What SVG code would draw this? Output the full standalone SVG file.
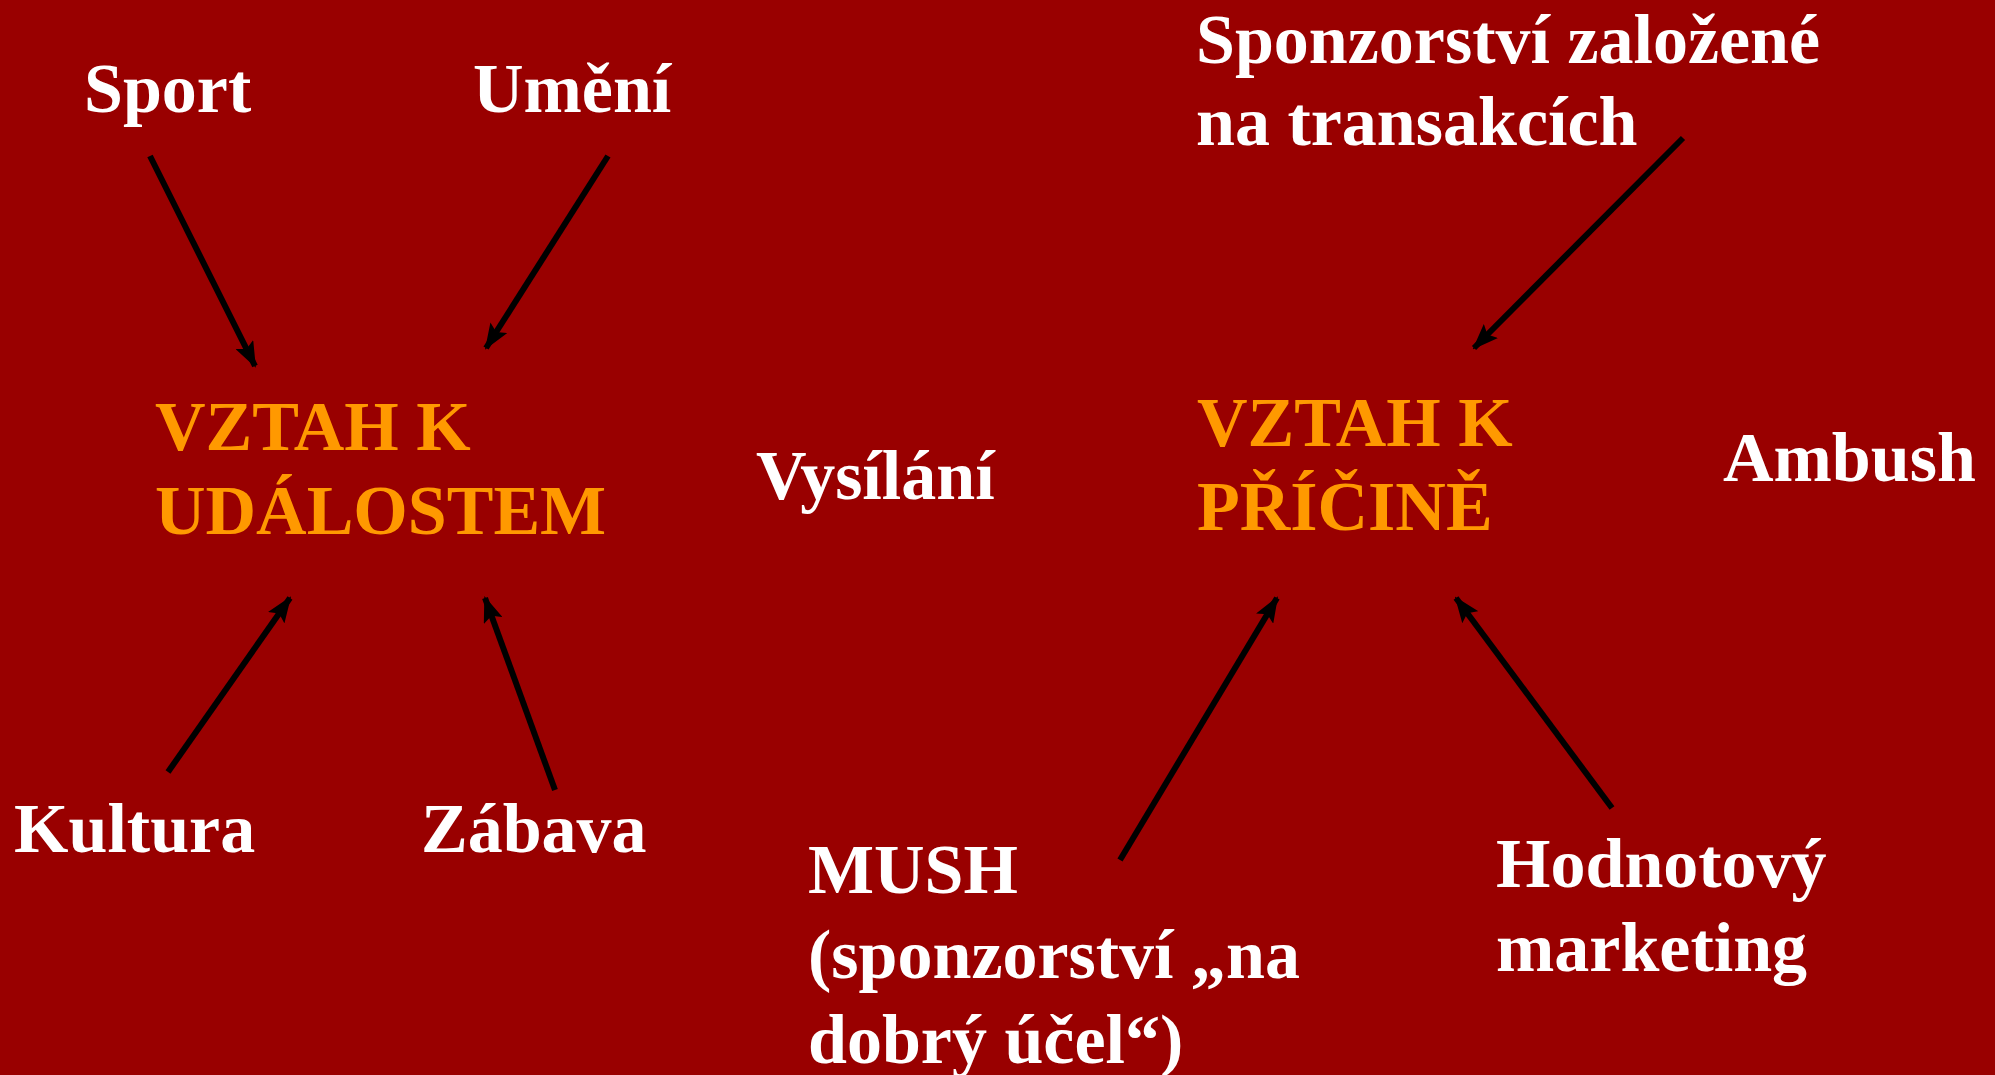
<svg xmlns="http://www.w3.org/2000/svg" width="1995" height="1075" viewBox="0 0 1995 1075">
<style>
text{font-family:"Liberation Serif","Times New Roman",serif;font-weight:bold;font-size:70px}
.w{fill:#FFFFFF}
.o{fill:#FF9900}
.c{stroke:#000000;stroke-width:6;fill:none;marker-end:url(#ah)}
</style>
<defs>
<marker id="ah" markerUnits="userSpaceOnUse" viewBox="0 0 26 20" markerWidth="26" markerHeight="20" refX="24" refY="10" orient="auto">
<path d="M0,0 L26,10 L0,20 L5,10 Z" fill="#000000"/>
</marker>
</defs>
<rect x="0" y="0" width="1995" height="1075" fill="#990000"/>
<g id="connectors">
<line class="c" x1="150" y1="156" x2="255" y2="366"/>
<line class="c" x1="608" y1="156" x2="486" y2="348"/>
<line class="c" x1="168" y1="772" x2="290" y2="598"/>
<line class="c" x1="555" y1="790" x2="485" y2="598"/>
<line class="c" x1="1683" y1="138" x2="1474" y2="348"/>
<line class="c" x1="1120" y1="860" x2="1277" y2="598"/>
<line class="c" x1="1612" y1="808" x2="1456" y2="598"/>
</g>
<g id="sport"><text class="w" x="84" y="112">Sport</text></g>
<g id="umeni"><text class="w" x="473" y="112">Umění</text></g>
<g id="sponzorstvi-transakce"><text class="w" x="1196" y="63">Sponzorství založené</text><text class="w" x="1196" y="145">na transakcích</text></g>
<g id="vztah-udalostem"><text class="o" x="155" y="450">VZTAH K</text><text class="o" x="155" y="534">UDÁLOSTEM</text></g>
<g id="vysilani"><text class="w" x="756" y="499">Vysílání</text></g>
<g id="vztah-pricine"><text class="o" x="1197" y="446">VZTAH K</text><text class="o" x="1197" y="530">PŘÍČINĚ</text></g>
<g id="ambush"><text class="w" x="1723" y="481">Ambush</text></g>
<g id="kultura"><text class="w" x="14" y="852">Kultura</text></g>
<g id="zabava"><text class="w" x="421" y="852">Zábava</text></g>
<g id="mush"><text class="w" x="808" y="893">MUSH</text><text class="w" x="808" y="978">(sponzorství „na</text><text class="w" x="808" y="1063">dobrý účel“)</text></g>
<g id="hodnotovy"><text class="w" x="1496" y="887">Hodnotový</text><text class="w" x="1496" y="971">marketing</text></g>
</svg>
